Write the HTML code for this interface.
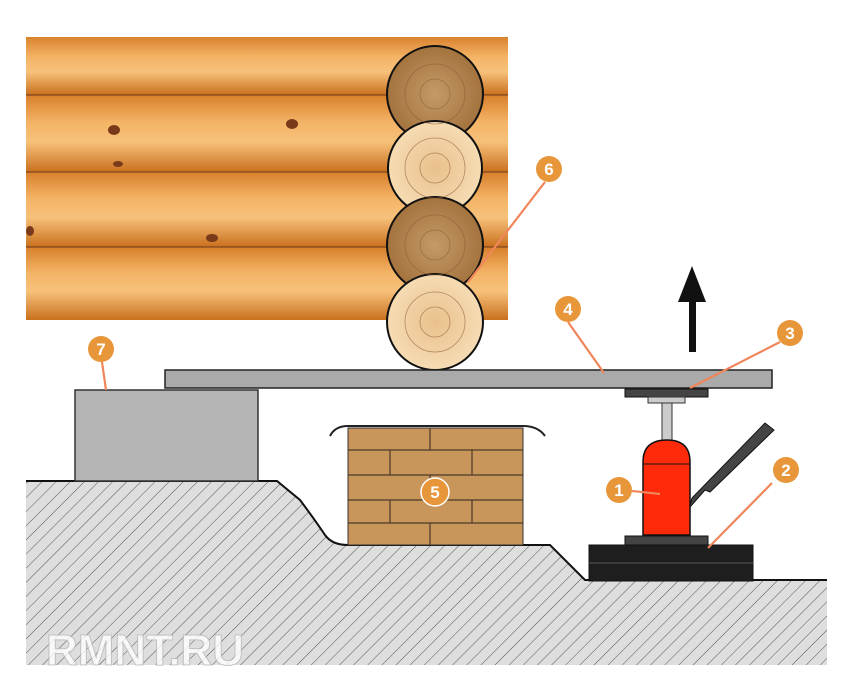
<!DOCTYPE html>
<html><head><meta charset="utf-8"><style>html,body{margin:0;padding:0;background:#fff;width:850px;height:699px;overflow:hidden}</style></head>
<body>
<svg width="850" height="699" viewBox="0 0 850 699" xmlns="http://www.w3.org/2000/svg">
<defs>
<pattern id="hatch" width="10" height="10" patternUnits="userSpaceOnUse" patternTransform="rotate(45)">
<rect width="10" height="10" fill="#dedede"/><line x1="0" y1="0" x2="0" y2="10" stroke="#555" stroke-width="1"/>
</pattern>
<linearGradient id="log" x1="0" y1="0" x2="0" y2="1">
<stop offset="0" stop-color="#d9822e"/><stop offset="0.35" stop-color="#f4b466"/><stop offset="0.6" stop-color="#f7c17a"/><stop offset="1" stop-color="#c9701e"/>
</linearGradient>
<radialGradient id="endD"><stop offset="0" stop-color="#c49a66"/><stop offset="1" stop-color="#a4733e"/></radialGradient>
<radialGradient id="endL"><stop offset="0" stop-color="#e9c08c"/><stop offset="1" stop-color="#f6dcb4"/></radialGradient>
</defs>
<!-- wood wall -->
<rect x="26" y="37" width="482" height="283" fill="#e89a48"/>
<rect x="26" y="37" width="482" height="58" fill="url(#log)"/>
<rect x="26" y="96" width="482" height="76" fill="url(#log)"/>
<rect x="26" y="173" width="482" height="74" fill="url(#log)"/>
<rect x="26" y="248" width="482" height="72" fill="url(#log)"/>
<g stroke="#8a4a1a" stroke-width="1.5"><line x1="26" y1="95" x2="508" y2="95"/><line x1="26" y1="172" x2="508" y2="172"/><line x1="26" y1="247" x2="508" y2="247"/></g>
<g fill="#7a3a1a"><ellipse cx="114" cy="130" rx="6" ry="5"/><ellipse cx="292" cy="124" rx="6" ry="5"/><ellipse cx="118" cy="164" rx="5" ry="3"/><ellipse cx="212" cy="238" rx="6" ry="4"/><ellipse cx="30" cy="231" rx="4" ry="5"/></g>
<!-- log ends -->
<g stroke="#111" stroke-width="2">
<circle cx="435" cy="94" r="48" fill="url(#endD)"/>
<circle cx="435" cy="168" r="47" fill="url(#endL)"/>
<circle cx="435" cy="245" r="48" fill="url(#endD)"/>
<circle cx="435" cy="322" r="48" fill="url(#endL)"/>
</g>
<g fill="none" stroke="#8a5a30" stroke-width="0.8" opacity="0.6">
<circle cx="435" cy="94" r="30"/><circle cx="435" cy="94" r="15"/>
<circle cx="435" cy="168" r="30"/><circle cx="435" cy="168" r="15"/>
<circle cx="435" cy="245" r="30"/><circle cx="435" cy="245" r="15"/>
<circle cx="435" cy="322" r="30"/><circle cx="435" cy="322" r="15"/>
</g>
<!-- ground -->
<path d="M26 481 L277 481 L300 500 Q315 520 325 535 Q332 545 348 545 L550 545 L585 580 L827 580 L827 665 L26 665 Z" fill="url(#hatch)"/>
<path d="M26 481 L277 481 L300 500 Q315 520 325 535 Q332 545 348 545 L550 545 L585 580 L827 580" fill="none" stroke="#111" stroke-width="2"/>
<text x="145" y="665" font-family="Liberation Sans, sans-serif" font-size="44" font-weight="bold" fill="#fff" stroke="#bbb" stroke-width="1" text-anchor="middle" opacity="0.8">RMNT.RU</text>
<!-- concrete block -->
<rect x="75" y="390" width="183" height="91" fill="#b4b4b4" stroke="#333" stroke-width="1.5"/>
<!-- brick pillar -->
<rect x="348" y="428" width="175" height="117" fill="#c8965a" stroke="#333" stroke-width="1"/>
<g stroke="#4a3a2a" stroke-width="1.2">
<line x1="348" y1="450" x2="523" y2="450"/><line x1="348" y1="475" x2="523" y2="475"/><line x1="348" y1="500" x2="523" y2="500"/><line x1="348" y1="523" x2="523" y2="523"/>
<line x1="430" y1="428" x2="430" y2="450"/><line x1="390" y1="450" x2="390" y2="475"/><line x1="472" y1="450" x2="472" y2="475"/><line x1="430" y1="475" x2="430" y2="500"/><line x1="390" y1="500" x2="390" y2="523"/><line x1="472" y1="500" x2="472" y2="523"/><line x1="430" y1="523" x2="430" y2="545"/>
</g>
<path d="M330 436 Q335 426 348 426 L523 426 Q538 426 545 436" fill="none" stroke="#222" stroke-width="2"/>
<!-- beam -->
<rect x="165" y="370" width="607" height="18" fill="#aaa" stroke="#222" stroke-width="1.5"/>
<!-- jack -->
<path d="M625 389 L708 389 L708 397 L625 397 Z" fill="#444" stroke="#111"/>
<rect x="648" y="397" width="37" height="6" fill="#ccc" stroke="#333"/>
<rect x="662" y="403" width="10" height="40" fill="#ccc" stroke="#333"/>
<path d="M643 535 L643 462 Q643 440 667 440 Q690 440 690 462 L690 535 Z" fill="#ff2a0a" stroke="#111" stroke-width="1.5"/>
<line x1="643" y1="464" x2="690" y2="464" stroke="#111"/>
<path d="M690 505 L692 498 L765 423 L774 430 L710 492 L705 490 L690 507 Z" fill="#444" stroke="#111"/>
<rect x="625" y="536" width="83" height="10" fill="#444" stroke="#111"/>
<rect x="589" y="545" width="164" height="36" fill="#1e1e1e" stroke="#111"/>
<line x1="589" y1="563" x2="753" y2="563" stroke="#555"/>
<!-- arrow -->
<rect x="689" y="300" width="7" height="52" fill="#111"/>
<polygon points="692,266 678,302 706,302" fill="#111"/>
<!-- leaders -->
<g stroke="#f0855a" stroke-width="2.2" fill="none">
<line x1="568" y1="322" x2="604" y2="373"/>
<line x1="780" y1="342" x2="690" y2="388"/>
<line x1="632" y1="491" x2="660" y2="494"/>
<line x1="772" y1="483" x2="708" y2="548"/>
<line x1="545" y1="182" x2="468" y2="282"/>
<line x1="102" y1="362" x2="106" y2="390"/>
</g>
<g font-family="Liberation Sans, sans-serif" font-size="17" font-weight="bold" fill="#fff" text-anchor="middle">
<circle cx="619" cy="490" r="13" fill="#e8963a"/><text x="619" y="496">1</text>
<circle cx="786" cy="470" r="13" fill="#e8963a"/><text x="786" y="476">2</text>
<circle cx="790" cy="333" r="13" fill="#e8963a"/><text x="790" y="339">3</text>
<circle cx="568" cy="309" r="13" fill="#e8963a"/><text x="568" y="315">4</text>
<circle cx="435" cy="492" r="14" fill="#e8963a" stroke="#fff" stroke-width="1.5"/><text x="435" y="498">5</text>
<circle cx="549" cy="169" r="13" fill="#e8963a"/><text x="549" y="175">6</text>
<circle cx="101" cy="349" r="13" fill="#e8963a"/><text x="101" y="355">7</text>
</g>
</svg>
</body></html>
